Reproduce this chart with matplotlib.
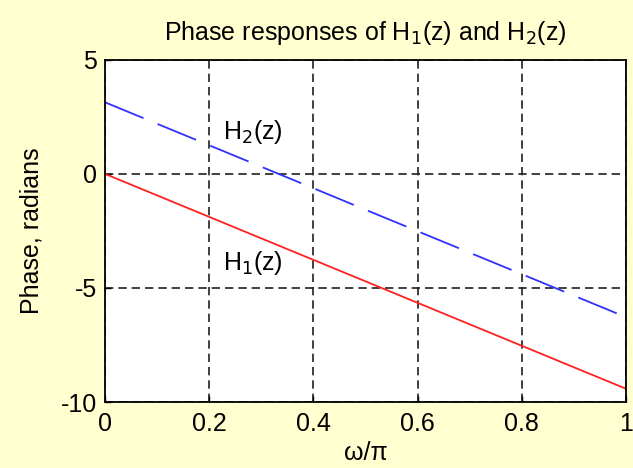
import matplotlib.pyplot as plt

# Phase responses (straight lines), read at the ends of the range
omega = [0.0, 1.0]
h1_phase = [0.0, -9.42]
h2_phase = [3.14, -6.28]

xticks = [0, 0.2, 0.4, 0.6, 0.8, 1]
yticks = [-10, -5, 0, 5]

bg = '#FFFFD0'
plt.rcParams['font.family'] = ['Liberation Sans', 'DejaVu Sans']
plt.rcParams['axes.unicode_minus'] = False
fs = 18

fig = plt.figure(figsize=(6.33, 4.68), dpi=100, facecolor=bg)
ax = fig.add_axes([0.166, 0.141, 0.823, 0.731])

ax.plot(omega, h1_phase, color='#FF2020', linewidth=1.3)
ax.plot(omega, h2_phase, color='#3030FF', linewidth=1.3, dashes=(23, 8.5))

ax.text(0.226, 1.53, r'H$_2$(z)', fontsize=fs, va='baseline')
ax.text(0.226, -4.2, r'H$_1$(z)', fontsize=fs, va='baseline')

ax.set_xlim(0, 1)
ax.set_ylim(-10, 5)
ax.set_xticks(xticks)
ax.set_xticklabels(['0', '0.2', '0.4', '0.6', '0.8', '1'])
ax.set_yticks(yticks)
ax.tick_params(direction='in', length=4, labelsize=fs, width=1)
ax.tick_params(axis='x', pad=7)
ax.tick_params(axis='y', pad=6)
ax.grid(True, color='#202020', linestyle=(0, (5, 3)), linewidth=1.2)
for s in ax.spines.values():
    s.set_linewidth(1.3)

ax.set_title(r'Phase responses of H$_1$(z) and H$_2$(z)', fontsize=fs, pad=14)
ax.set_xlabel('ω/π', fontsize=fs, labelpad=4)
ax.set_ylabel('Phase, radians', fontsize=fs, labelpad=12)

fig.savefig('out.png', dpi=100, facecolor=bg)
